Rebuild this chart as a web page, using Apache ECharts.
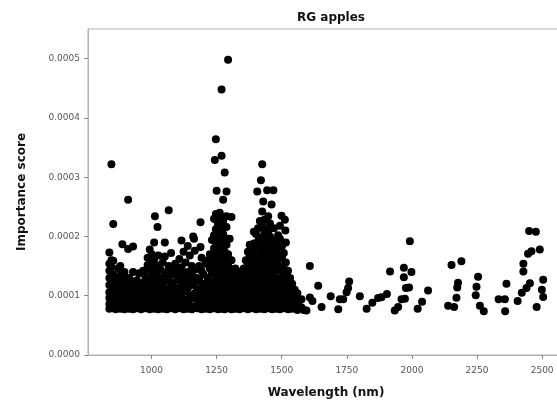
<!DOCTYPE html>
<html>
<head>
<meta charset="utf-8">
<script src="https://cdn.jsdelivr.net/npm/echarts@6/dist/echarts.min.js"></script>
<style>
html,body{margin:0;padding:0;overflow:hidden;background:#fff;}
#chart{width:580px;height:404px;}
</style>
</head>
<body>
<div id="chart"></div>
<script>
// Data: [wavelength (nm), importance score]
const region830_1000 = [
  [838,7.8e-5],[838,8.6e-5],[838,9.6e-5],[838,10.6e-5],[838,11.8e-5],[838,13.0e-5],[838,14.2e-5],[838,15.4e-5],[838,17.3e-5],
  [846,32.2e-5],[846,8.0e-5],[846,9.2e-5],[846,12.4e-5],[846,14.8e-5],[846,16.0e-5],
  [853,22.1e-5],[853,8.4e-5],[853,10.0e-5],[853,11.2e-5],[853,13.6e-5],[853,15.9e-5],
  [862,7.7e-5],[862,9.0e-5],[862,10.4e-5],[862,12.0e-5],[862,13.2e-5],
  [872,8.2e-5],[872,9.6e-5],[872,11.0e-5],[872,12.6e-5],[872,14.6e-5],
  [880,7.8e-5],[880,8.8e-5],[880,10.2e-5],[880,11.6e-5],[880,13.4e-5],[880,15.0e-5],
  [888,18.7e-5],[888,8.4e-5],[888,9.8e-5],[888,12.2e-5],
  [896,7.7e-5],[896,9.2e-5],[896,10.8e-5],[896,12.8e-5],[896,14.0e-5],
  [905,8.1e-5],[905,9.6e-5],[905,11.4e-5],
  [910,26.2e-5],[910,17.9e-5],
  [914,7.8e-5],[914,10.2e-5],[914,12.0e-5],[914,13.0e-5],
  [922,8.6e-5],[922,9.4e-5],[922,11.0e-5],
  [929,18.3e-5],[929,7.7e-5],[929,12.4e-5],[929,14.0e-5],
  [935,8.2e-5],[935,9.8e-5],[935,11.2e-5],
  [944,7.9e-5],[944,9.0e-5],[944,10.6e-5],[944,12.6e-5],
  [952,8.4e-5],[952,10.0e-5],[952,11.8e-5],[952,13.8e-5],
  [960,7.7e-5],[960,9.4e-5],[960,11.0e-5],
  [968,8.2e-5],[968,10.4e-5],[968,12.2e-5],[968,14.2e-5],
  [976,7.9e-5],[976,9.0e-5],[976,11.6e-5],[976,13.2e-5],
  [985,8.4e-5],[985,9.8e-5],[985,11.0e-5],[985,12.8e-5],[985,15.2e-5],[985,16.4e-5],
  [993,7.7e-5],[993,9.2e-5],[993,10.6e-5],[993,12.2e-5],[993,14.4e-5],[993,17.8e-5]
];
const region1000_1210 = [
  [1001,8.1e-5],[1001,9.6e-5],[1001,11.4e-5],[1001,13.4e-5],[1001,15.8e-5],[1001,17.0e-5],
  [1010,19.0e-5],[1010,7.8e-5],[1010,8.8e-5],[1010,10.4e-5],[1010,12.6e-5],[1010,14.6e-5],[1010,16.2e-5],
  [1013,23.4e-5],
  [1018,8.4e-5],[1018,9.8e-5],[1018,11.8e-5],[1018,13.8e-5],[1018,15.2e-5],
  [1023,21.6e-5],
  [1026,7.7e-5],[1026,9.2e-5],[1026,10.8e-5],[1026,12.4e-5],[1026,16.8e-5],
  [1035,8.2e-5],[1035,10.0e-5],[1035,11.6e-5],[1035,13.0e-5],[1035,14.4e-5],
  [1043,7.8e-5],[1043,9.0e-5],[1043,10.6e-5],[1043,12.0e-5],[1043,15.6e-5],
  [1051,19.0e-5],[1051,8.4e-5],[1051,9.6e-5],[1051,11.2e-5],[1051,13.4e-5],[1051,16.6e-5],
  [1059,7.7e-5],[1059,8.8e-5],[1059,10.2e-5],[1059,12.6e-5],[1059,14.0e-5],
  [1066,24.4e-5],[1066,8.2e-5],[1066,9.4e-5],[1066,11.0e-5],[1066,13.2e-5],[1066,15.0e-5],
  [1075,7.9e-5],[1075,10.0e-5],[1075,11.8e-5],[1075,14.4e-5],[1075,17.2e-5],
  [1083,8.6e-5],[1083,9.2e-5],[1083,12.2e-5],[1083,13.6e-5],
  [1091,7.7e-5],[1091,10.6e-5],[1091,11.4e-5],[1091,15.4e-5],
  [1099,8.2e-5],[1099,9.6e-5],[1099,12.8e-5],[1099,14.2e-5],
  [1107,7.9e-5],[1107,9.0e-5],[1107,11.0e-5],[1107,13.0e-5],[1107,16.2e-5],
  [1115,19.3e-5],[1115,8.4e-5],[1115,10.2e-5],[1115,12.0e-5],[1115,14.8e-5],
  [1123,7.7e-5],[1123,9.4e-5],[1123,11.6e-5],[1123,13.6e-5],[1123,17.4e-5],
  [1131,8.1e-5],[1131,10.8e-5],[1131,12.4e-5],[1131,15.6e-5],
  [1139,7.8e-5],[1139,9.0e-5],[1139,11.2e-5],[1139,14.0e-5],[1139,18.4e-5],
  [1147,8.4e-5],[1147,10.0e-5],[1147,12.8e-5],[1147,16.8e-5],
  [1155,7.7e-5],[1155,9.6e-5],[1155,11.8e-5],[1155,13.4e-5],[1155,15.0e-5],
  [1160,20.0e-5],[1163,19.6e-5],
  [1166,8.2e-5],[1166,10.4e-5],[1166,12.2e-5],[1166,14.4e-5],[1166,17.6e-5],
  [1175,7.9e-5],[1175,9.2e-5],[1175,11.0e-5],[1175,13.0e-5],
  [1183,8.4e-5],[1183,10.2e-5],[1183,12.6e-5],[1183,15.0e-5],
  [1188,22.4e-5],[1188,18.2e-5],
  [1192,7.7e-5],[1192,9.4e-5],[1192,11.4e-5],[1192,14.2e-5],[1192,16.4e-5],
  [1200,8.1e-5],[1200,10.6e-5],[1200,12.0e-5],[1200,13.6e-5],
  [1208,7.8e-5],[1208,9.0e-5],[1208,11.6e-5],[1208,15.4e-5]
];
const region1210_1340 = [
  [1216,8.4e-5],[1216,9.8e-5],[1216,11.2e-5],[1216,13.0e-5],[1216,16.0e-5],
  [1224,7.7e-5],[1224,9.2e-5],[1224,10.8e-5],[1224,12.4e-5],[1224,14.6e-5],[1224,17.0e-5],
  [1232,8.2e-5],[1232,10.0e-5],[1232,11.8e-5],[1232,13.8e-5],[1232,15.6e-5],[1232,19.4e-5],
  [1240,7.9e-5],[1240,9.0e-5],[1240,10.6e-5],[1240,12.2e-5],[1240,14.0e-5],[1240,16.2e-5],[1240,18.0e-5],[1240,20.2e-5],[1240,23.0e-5],
  [1243,32.9e-5],
  [1247,36.4e-5],[1247,8.4e-5],[1247,9.6e-5],[1247,11.4e-5],[1247,13.2e-5],[1247,15.2e-5],[1247,17.2e-5],[1247,19.0e-5],[1247,21.2e-5],[1247,23.8e-5],
  [1250,27.7e-5],[1250,22.8e-5],
  [1255,7.7e-5],[1255,9.2e-5],[1255,10.8e-5],[1255,12.6e-5],[1255,14.6e-5],[1255,16.6e-5],[1255,18.6e-5],[1255,20.6e-5],[1255,22.2e-5],
  [1262,8.1e-5],[1262,10.0e-5],[1262,11.8e-5],[1262,13.6e-5],[1262,15.6e-5],[1262,17.6e-5],[1262,19.6e-5],[1262,21.6e-5],[1262,24.0e-5],
  [1269,44.8e-5],[1269,33.6e-5],[1269,7.8e-5],[1269,9.4e-5],[1269,11.0e-5],[1269,12.8e-5],[1269,14.8e-5],[1269,16.8e-5],[1269,18.8e-5],[1269,21.0e-5],[1269,23.2e-5],
  [1275,26.2e-5],[1275,8.6e-5],[1275,10.4e-5],[1275,12.2e-5],[1275,14.0e-5],[1275,16.0e-5],[1275,18.2e-5],[1275,20.4e-5],[1275,22.6e-5],
  [1281,30.8e-5],[1281,7.7e-5],[1281,9.0e-5],[1281,11.6e-5],[1281,13.4e-5],[1281,15.4e-5],[1281,17.4e-5],[1281,19.8e-5],
  [1288,27.6e-5],[1288,8.2e-5],[1288,10.2e-5],[1288,12.0e-5],[1288,14.2e-5],[1288,16.4e-5],[1288,18.6e-5],[1288,21.6e-5],[1288,23.4e-5],
  [1294,49.8e-5],[1294,7.9e-5],[1294,9.6e-5],[1294,11.2e-5],[1294,13.0e-5],[1294,15.0e-5],[1294,17.0e-5],
  [1300,8.4e-5],[1300,10.8e-5],[1300,12.6e-5],[1300,14.6e-5],[1300,19.6e-5],
  [1307,23.3e-5],[1307,7.7e-5],[1307,9.2e-5],[1307,11.4e-5],[1307,13.6e-5],[1307,16.0e-5],
  [1314,8.1e-5],[1314,10.0e-5],[1314,12.2e-5],[1314,14.0e-5],
  [1322,7.8e-5],[1322,9.4e-5],[1322,11.0e-5],[1322,12.8e-5],[1322,14.6e-5],
  [1330,8.4e-5],[1330,10.2e-5],[1330,11.8e-5],[1330,13.4e-5],
  [1338,7.7e-5],[1338,9.0e-5],[1338,10.8e-5],[1338,12.4e-5],[1338,14.0e-5]
];
const region1340_1600 = [
  [1346,8.2e-5],[1346,9.8e-5],[1346,11.6e-5],[1346,13.2e-5],
  [1354,7.9e-5],[1354,9.2e-5],[1354,10.6e-5],[1354,12.4e-5],[1354,14.6e-5],
  [1362,8.6e-5],[1362,10.0e-5],[1362,11.8e-5],[1362,13.8e-5],[1362,16.0e-5],
  [1370,7.7e-5],[1370,9.4e-5],[1370,11.2e-5],[1370,12.8e-5],[1370,15.2e-5],[1370,17.4e-5],
  [1377,8.2e-5],[1377,10.4e-5],[1377,12.2e-5],[1377,14.2e-5],[1377,16.8e-5],[1377,18.6e-5],
  [1385,7.9e-5],[1385,9.0e-5],[1385,11.0e-5],[1385,13.0e-5],[1385,15.6e-5],[1385,17.8e-5],
  [1393,8.4e-5],[1393,9.8e-5],[1393,11.8e-5],[1393,13.6e-5],[1393,15.0e-5],[1393,16.8e-5],[1393,18.8e-5],[1393,20.8e-5],
  [1401,7.7e-5],[1401,9.2e-5],[1401,10.6e-5],[1401,12.4e-5],[1401,14.4e-5],[1401,16.2e-5],[1401,18.2e-5],[1401,20.4e-5],
  [1406,27.6e-5],
  [1409,8.1e-5],[1409,10.0e-5],[1409,11.4e-5],[1409,13.2e-5],[1409,15.0e-5],[1409,17.0e-5],[1409,19.2e-5],[1409,21.4e-5],
  [1416,22.6e-5],[1416,7.8e-5],[1416,9.4e-5],[1416,11.0e-5],[1416,12.8e-5],[1416,14.8e-5],[1416,16.8e-5],[1416,18.6e-5],
  [1420,29.5e-5],
  [1425,32.2e-5],[1425,8.4e-5],[1425,10.2e-5],[1425,12.0e-5],[1425,13.8e-5],[1425,15.8e-5],[1425,17.8e-5],[1425,19.8e-5],[1425,21.8e-5],[1425,24.2e-5],
  [1429,25.9e-5],
  [1433,7.7e-5],[1433,9.0e-5],[1433,10.8e-5],[1433,12.6e-5],[1433,14.6e-5],[1433,16.4e-5],[1433,18.4e-5],[1433,20.6e-5],[1433,22.8e-5],
  [1441,8.2e-5],[1441,9.8e-5],[1441,11.6e-5],[1441,13.4e-5],[1441,15.4e-5],[1441,17.4e-5],[1441,19.4e-5],[1441,21.2e-5],
  [1444,27.8e-5],
  [1448,23.4e-5],[1448,7.9e-5],[1448,9.2e-5],[1448,11.0e-5],[1448,12.8e-5],[1448,14.6e-5],[1448,16.6e-5],[1448,18.8e-5],[1448,20.8e-5],
  [1455,8.4e-5],[1455,10.4e-5],[1455,12.2e-5],[1455,14.0e-5],[1455,16.0e-5],[1455,18.0e-5],[1455,20.0e-5],[1455,22.2e-5],
  [1461,25.4e-5],
  [1463,7.7e-5],[1463,9.6e-5],[1463,11.4e-5],[1463,13.4e-5],[1463,15.4e-5],[1463,17.4e-5],[1463,19.4e-5],
  [1468,27.8e-5],
  [1470,8.1e-5],[1470,10.0e-5],[1470,12.0e-5],[1470,13.8e-5],[1470,15.8e-5],[1470,17.8e-5],[1470,21.4e-5],
  [1478,7.8e-5],[1478,9.2e-5],[1478,11.0e-5],[1478,12.8e-5],[1478,14.8e-5],[1478,16.8e-5],[1478,18.8e-5],
  [1486,8.4e-5],[1486,10.2e-5],[1486,12.4e-5],[1486,14.4e-5],[1486,16.2e-5],[1486,18.2e-5],[1486,20.2e-5],
  [1493,7.7e-5],[1493,9.4e-5],[1493,11.2e-5],[1493,13.0e-5],[1493,15.0e-5],[1493,17.0e-5],[1493,19.6e-5],[1493,21.8e-5],
  [1499,23.5e-5],
  [1501,8.2e-5],[1501,10.0e-5],[1501,11.8e-5],[1501,14.0e-5],[1501,16.4e-5],[1501,18.4e-5],
  [1508,7.9e-5],[1508,9.0e-5],[1508,10.8e-5],[1508,12.6e-5],[1508,14.6e-5],[1508,17.2e-5],
  [1512,22.8e-5],[1514,21.0e-5],
  [1516,8.6e-5],[1516,9.8e-5],[1516,11.6e-5],[1516,13.4e-5],[1516,15.6e-5],[1516,19.0e-5],
  [1524,7.7e-5],[1524,9.2e-5],[1524,10.6e-5],[1524,12.2e-5],[1524,14.2e-5],
  [1532,8.2e-5],[1532,10.0e-5],[1532,11.4e-5],[1532,13.0e-5],
  [1540,7.8e-5],[1540,9.0e-5],[1540,10.8e-5],[1540,12.0e-5],
  [1550,8.4e-5],[1550,9.6e-5],[1550,11.0e-5],
  [1560,7.6e-5],[1560,8.8e-5],[1560,10.4e-5],
  [1568,8.2e-5],[1576,8.0e-5],[1576,9.4e-5],[1584,7.6e-5],[1595,7.5e-5]
];
const region1600_2520 = [
  [1608,15.0e-5],[1608,9.7e-5],[1618,9.1e-5],[1640,11.7e-5],[1653,8.1e-5],[1688,9.9e-5],
  [1717,7.7e-5],[1723,9.4e-5],[1736,9.4e-5],[1749,10.6e-5],[1755,11.3e-5],[1759,12.4e-5],
  [1800,9.9e-5],[1826,7.8e-5],[1848,8.8e-5],[1870,9.6e-5],[1883,9.75e-5],[1904,10.3e-5],[1916,14.1e-5],
  [1934,7.5e-5],[1947,8.1e-5],[1960,9.4e-5],[1973,9.5e-5],[1977,11.3e-5],[1989,11.4e-5],
  [1969,13.1e-5],[1969,14.7e-5],[1998,14.0e-5],[1992,19.2e-5],
  [2022,7.8e-5],[2039,9.0e-5],[2062,10.9e-5],
  [2139,8.3e-5],[2162,8.1e-5],[2152,15.2e-5],[2190,15.8e-5],[2171,9.65e-5],[2174,11.4e-5],[2177,12.2e-5],
  [2254,13.2e-5],[2248,11.5e-5],[2245,10.1e-5],[2261,8.3e-5],[2276,7.4e-5],
  [2333,9.4e-5],[2357,9.4e-5],[2358,7.4e-5],[2363,12.0e-5],
  [2406,9.1e-5],[2422,10.5e-5],[2440,11.3e-5],[2453,12.1e-5],[2428,14.1e-5],[2428,15.4e-5],
  [2446,17.1e-5],[2459,17.5e-5],[2491,17.8e-5],[2450,20.9e-5],[2476,20.8e-5],
  [2504,12.7e-5],[2499,11.0e-5],[2504,9.8e-5],[2479,8.1e-5]
];
const xTicks = [1000, 1250, 1500, 1750, 2000, 2250, 2500];
const yTicks = [0, 0.0001, 0.0002, 0.0003, 0.0004, 0.0005];

const allPoints = region830_1000.concat(region1000_1210, region1210_1340, region1340_1600, region1600_2520);

const chart = echarts.init(document.getElementById('chart'), null, {renderer: 'canvas'});
const font = 'DejaVu Sans';
chart.setOption({
  animation: false,
  backgroundColor: '#ffffff',
  title: {
    text: 'RG apples',
    left: 326, top: 7, textAlign: 'center',
    textStyle: {fontFamily: font, fontSize: 12, fontWeight: 'bold', color: '#111'}
  },
  grid: {
    left: 88, top: 29, right: 16, bottom: 44,
    show: true, borderColor: '#b0b0b0', borderWidth: 1, backgroundColor: 'transparent'
  },
  xAxis: {
    type: 'value', min: 756, max: 2584,
    name: 'Wavelength (nm)', nameLocation: 'middle', nameGap: 32,
    nameTextStyle: {fontFamily: font, fontSize: 12, fontWeight: 'bold', color: '#111'},
    axisLine: {show: true, lineStyle: {color: '#b0b0b0', width: 1}},
    axisTick: {show: true, length: 4, customValues: xTicks, lineStyle: {color: '#888'}},
    axisLabel: {customValues: xTicks, margin: 11, fontFamily: font, fontSize: 9, color: '#555',
      formatter: v => String(Math.round(v))},
    splitLine: {show: false}
  },
  yAxis: {
    type: 'value', min: 0, max: 0.00055,
    name: 'Importance score', nameLocation: 'middle', nameGap: 60,
    nameTextStyle: {fontFamily: font, fontSize: 12, fontWeight: 'bold', color: '#111'},
    axisLine: {show: true, lineStyle: {color: '#b0b0b0', width: 1}},
    axisTick: {show: true, length: 4, customValues: yTicks, lineStyle: {color: '#888'}},
    axisLabel: {customValues: yTicks, margin: 8, fontFamily: font, fontSize: 9, color: '#555',
      formatter: v => Number(v).toFixed(4)},
    splitLine: {show: false}
  },
  series: [{
    type: 'scatter',
    data: allPoints,
    symbol: 'circle',
    symbolSize: 8,
    itemStyle: {color: '#000000', opacity: 1},
    emphasis: {disabled: true},
    silent: true
  }]
});
</script>
</body>
</html>
